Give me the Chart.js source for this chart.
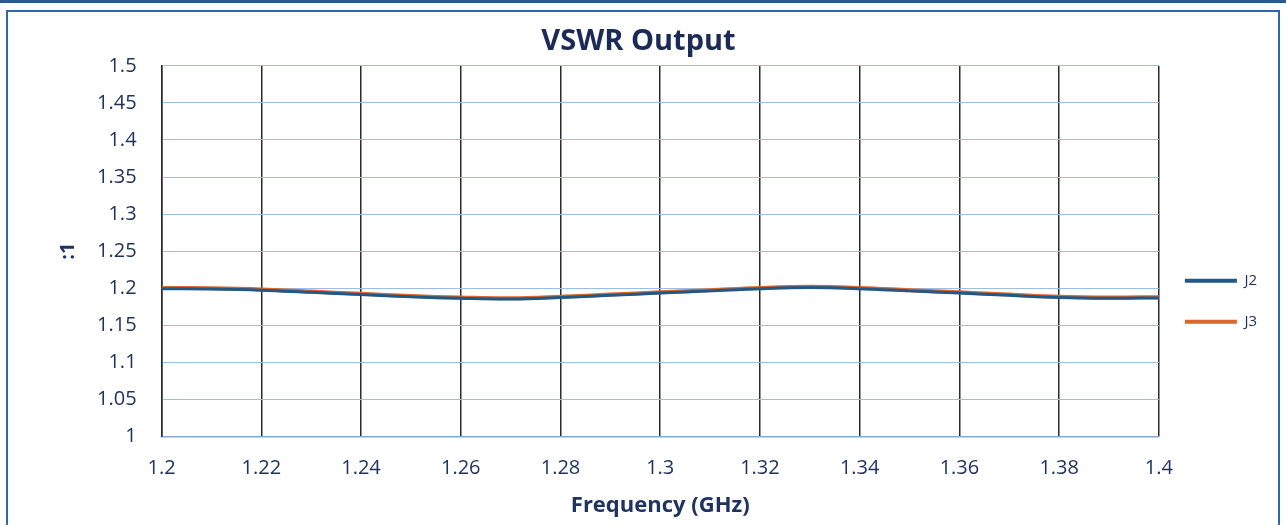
<!DOCTYPE html>
<html>
<head>
<meta charset="utf-8">
<script src="https://cdn.jsdelivr.net/npm/chart.js@4.4.1/dist/chart.umd.min.js"></script>
<style>
  html, body { margin: 0; padding: 0; background: #fff; }
  #wrap { position: relative; width: 1286px; height: 525px; overflow: hidden; }
  #topbar { position: absolute; left: 0; top: 0; width: 1286px; height: 3px; background: #2a5a8c; }
  #frame { position: absolute; left: 6px; top: 10px; width: 1274px; height: 520px;
           border: 2px solid #2f68a8; box-sizing: border-box; }
  canvas { position: absolute; left: 0; top: 0; }
</style>
</head>
<body>
<div id="wrap">
  <div id="topbar"></div>
  <div id="frame"></div>
  <canvas id="chart1" width="1286" height="525"></canvas>
</div>
<script>
const freq = [1.20, 1.21, 1.22, 1.23, 1.24, 1.25, 1.26, 1.27, 1.28, 1.29, 1.30,
              1.31, 1.32, 1.33, 1.34, 1.35, 1.36, 1.37, 1.38, 1.39, 1.40];
const j2 = [1.1995, 1.1990, 1.1975, 1.1945, 1.1915, 1.1885, 1.1865, 1.1855, 1.1875, 1.1905, 1.1935,
            1.1965, 1.1995, 1.2010, 1.1995, 1.1965, 1.1935, 1.1905, 1.1875, 1.1865, 1.1870];
const j3 = [1.2005, 1.2000, 1.1985, 1.1955, 1.1925, 1.1895, 1.1875, 1.1865, 1.1885, 1.1915, 1.1945,
            1.1975, 1.2005, 1.2020, 1.2005, 1.1975, 1.1945, 1.1915, 1.1885, 1.1875, 1.1880];
const xTicks = [1.2, 1.22, 1.24, 1.26, 1.28, 1.3, 1.32, 1.34, 1.36, 1.38, 1.4];
const yTicks = [1, 1.05, 1.1, 1.15, 1.2, 1.25, 1.3, 1.35, 1.4, 1.45, 1.5];

const textColor = '#1f3260';

const ctx1 = document.getElementById('chart1');
const myChart = new Chart(ctx1, {
    type: 'line',
    data: {
        datasets: [{
            label: 'J2',
            data: freq.map((f, i) => ({x: f, y: j2[i]})),
            borderColor: '#1f5a86',
            backgroundColor: '#1f5a86',
            borderWidth: 3,
            pointRadius: 0,
            tension: 0.4
        }, {
            label: 'J3',
            data: freq.map((f, i) => ({x: f, y: j3[i]})),
            borderColor: '#dc6530',
            backgroundColor: '#dc6530',
            borderWidth: 4,
            pointRadius: 0,
            tension: 0.4
        }]
    },
    options: {
        responsive: false,
        animation: false,
        layout: {
            padding: {left: 10, right: 19, top: 14, bottom: 5}
        },
        scales: {
            x: {
                type: 'linear',
                min: 1.2,
                max: 1.4,
                afterBuildTicks: (scale) => { scale.ticks = xTicks.map(v => ({value: v})); },
                grid: {
                    color: '#2b2b2b',
                    lineWidth: 1.5,
                    drawTicks: false
                },
                border: {
                    color: '#86a8d6',
                    width: 1.5
                },
                ticks: {
                    color: textColor,
                    padding: 20,
                    maxRotation: 0,
                    font: {family: 'Open Sans', size: 20},
                    callback: (v) => String(Number(v.toFixed(3)))
                },
                title: {
                    display: true,
                    text: 'Frequency (GHz)',
                    color: textColor,
                    // tick padding is counted twice by the axis, so pull the title back up
                    padding: {top: -8, bottom: 1},
                    font: {family: 'Open Sans', size: 22, weight: 'bold'}
                }
            },
            y: {
                min: 1,
                max: 1.5,
                afterBuildTicks: (scale) => { scale.ticks = yTicks.map(v => ({value: v})); },
                grid: {
                    color: '#9cbde6',
                    lineWidth: 1,
                    drawTicks: false
                },
                border: {
                    color: '#2b2b2b',
                    width: 1.5
                },
                ticks: {
                    color: textColor,
                    padding: 25,
                    font: {family: 'Open Sans', size: 20},
                    callback: (v) => String(Number(v.toFixed(3)))
                },
                title: {
                    display: true,
                    text: ':1',
                    color: textColor,
                    padding: {top: 46, bottom: -8},
                    font: {family: 'Open Sans', size: 20, weight: 'bold'}
                }
            }
        },
        plugins: {
            title: {
                display: true,
                text: 'VSWR Output',
                color: '#1c2a58',
                padding: {top: 10, bottom: 7},
                font: {family: 'Open Sans', size: 29, weight: 'bold'}
            },
            legend: {
                position: 'right',
                title: {
                    display: true,
                    text: '',
                    font: {size: 12},
                    padding: {top: 0, bottom: 54}
                },
                labels: {
                    color: textColor,
                    boxWidth: 52,
                    boxHeight: 4,
                    padding: 26,
                    font: {family: 'Open Sans', size: 15},
                    generateLabels: (chart) => Chart.defaults.plugins.legend.labels.generateLabels(chart)
                        .map(l => Object.assign(l, {lineWidth: 0}))
                }
            },
            tooltip: {enabled: false}
        }
    }
});
</script>
</body>
</html>
